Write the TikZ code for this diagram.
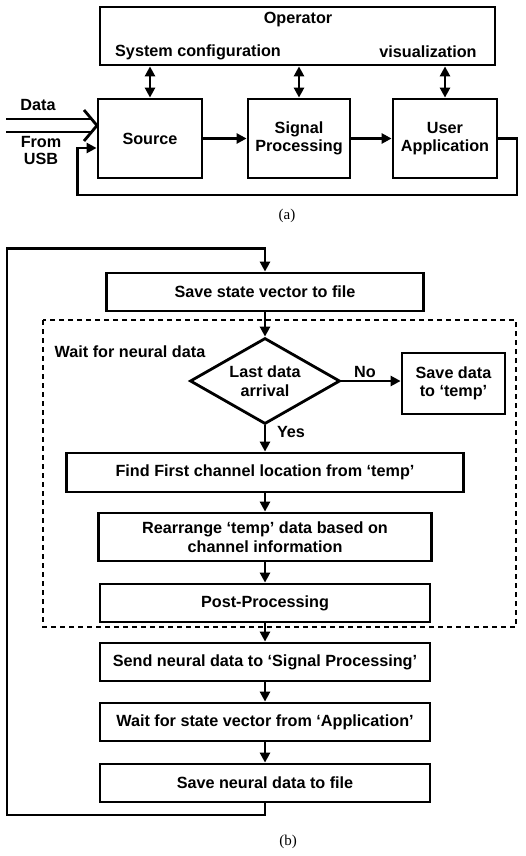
\documentclass[tikz,border=0pt]{standalone}
\usepackage{fontspec}
\setmainfont{Liberation Sans}
\newfontfamily\capfont{Liberation Serif}
\usetikzlibrary{arrows.meta, positioning, shapes.geometric}
\tikzstyle{block}		=[rectangle, draw=black, line width=2.8pt, align=center, inner sep=0pt, font=\bfseries\fontsize{16.2}{18.5}\selectfont]
\tikzstyle{decision}	=[diamond, draw=black, line width=2.8pt, align=center, inner sep=0pt, aspect=1.74, minimum width=150pt, minimum height=86pt, font=\bfseries\fontsize{16.2}{18.5}\selectfont]
\tikzstyle{textnode}	=[align=center, inner sep=0pt, font=\bfseries\fontsize{16.2}{17.5}\selectfont]
\tikzstyle{captiontxt}	=[inner sep=0pt, font=\capfont\fontsize{15}{18}\selectfont]
\tikzstyle{wire}		=[line width=2.8pt]
\tikzstyle{flow}		=[wire, -{Triangle[length=10pt, width=10pt]}]
\tikzstyle{back}		=[wire, {Triangle[length=10pt, width=10pt]}-]
\tikzstyle{both}		=[wire, {Triangle[length=10pt, width=10pt]}-{Triangle[length=10pt, width=10pt]}]
\tikzstyle{groupbox}	=[wire, dash pattern=on 5pt off 4pt]
\tikzstyle{wide}		=[minimum width=330pt, minimum height=38pt]

\begin{document}
\begin{tikzpicture}[x=1pt, y=-1pt]
	\useasboundingbox (0,0) rectangle (525,856);

	% (a) block diagram
	\node (Operator)		[block, minimum width=395pt, minimum height=58pt]		at (297.5, 36.0)		{};
	\node (OperatorTxt)		[textnode]												at (298.0, 20.0)		{Operator};
	\node (SysConfTxt)		[textnode]												at (198.0, 52.0)		{System configuration};
	\node (VisualTxt)		[textnode]												at (428.0, 52.0)		{visualization};

	\node (Source)			[block, minimum width=104pt, minimum height=79pt]		at (150.0, 138.5)		{Source};
	\node (Signal)			[block, minimum width=102pt, minimum height=79pt]		at (299.0, 138.5)		{Signal\\Processing}		edge[back] (Source);
	\node (User)			[block, minimum width=104pt, minimum height=79pt]		at (445.0, 138.5)		{User\\Application}		edge[back] (Signal);

	\draw[both] (Source.north)	-- (Source.north |- Operator.south);
	\draw[both] (Signal.north)	-- (Signal.north |- Operator.south);
	\draw[both] (User.north)	-- (User.north |- Operator.south);

	\coordinate (LoopA) at (517, 195);
	\draw[flow] (User.east) -| (LoopA) -| ([xshift=-19pt, yshift=-9.5pt]Source.west) -- ([yshift=-9.5pt]Source.west);

	% data input from USB
	\coordinate (DataTip) at (97, 125.5);
	\draw[wire] (6, 119) -- (91, 119) (6, 132) -- (91, 132);
	\draw[wire] (84, 110) -- (DataTip) -- (84, 141);
	\node (DataTxt)			[textnode]												at (38.0, 105.0)		{Data};
	\node (FromTxt)			[textnode]												at (41.0, 150.5)		{From\\USB};

	\node (CapA)			[captiontxt]											at (287.0, 216.0)		{(a)};

	% (b) flow chart
	\node (SaveState)		[block, minimum width=317pt, minimum height=38pt]		at (265.0, 292.0)		{Save state vector to file};
	\draw[groupbox] (43, 320) rectangle (516, 627);
	\node (WaitTxt)			[textnode]												at (130.0, 352.0)		{Wait for neural data};

	\node (Arrival)			[decision]												at (265.0, 381.0)		{Last data\\arrival}		edge[back] (SaveState);
	\node (SaveTemp)		[block, minimum width=103pt, minimum height=61pt]		at (453.5, 383.5)		{Save data\\to ‘temp’};
	\draw[flow] (Arrival.east) -- (Arrival.east -| SaveTemp.west);
	\node (NoTxt)			[textnode]												at (365.0, 372.0)		{No};

	\node (FindFirst)		[block, minimum width=397pt, minimum height=39pt]		at (265.0, 472.5)		{Find First channel location from ‘temp’}		edge[back] (Arrival);
	\node (YesTxt)			[textnode]												at (291.0, 432.0)		{Yes};
	\node (Rearrange)		[block, minimum width=333pt, minimum height=48pt]		at (265.0, 537.0)		{Rearrange ‘temp’ data based on\\channel information}		edge[back] (FindFirst);
	\node (PostProc)		[block, wide]											at (265.0, 603.0)		{Post-Processing}		edge[back] (Rearrange);

	\node (SendData)		[block, wide]											at (265.0, 662.0)		{Send neural data to ‘Signal Processing’}		edge[back] (PostProc);
	\node (WaitState)		[block, wide]											at (265.0, 722.0)		{Wait for state vector from ‘Application’}		edge[back] (SendData);
	\node (SaveNeural)		[block, wide]											at (265.0, 783.0)		{Save neural data to file}		edge[back] (WaitState);

	\coordinate (LoopB) at (7, 815);
	\draw[flow] (SaveNeural.south) |- (LoopB) |- ([yshift=23pt]SaveState.north) -- (SaveState.north);

	\node (CapB)			[captiontxt]											at (288.0, 842.0)		{(b)};

\end{tikzpicture}
\end{document}
